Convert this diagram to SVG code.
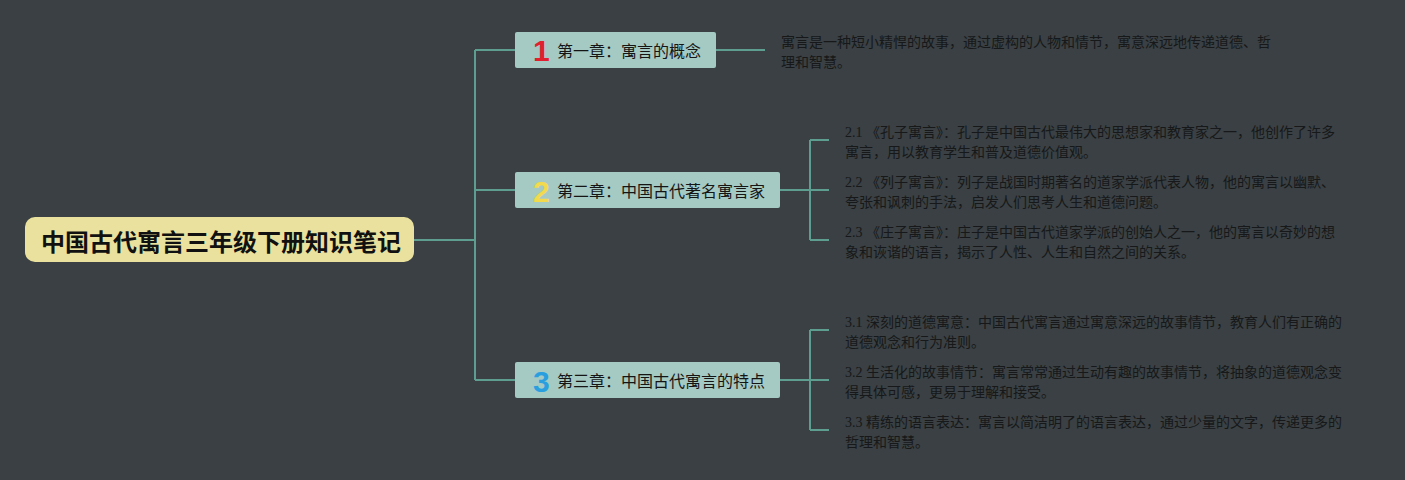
<svg xmlns="http://www.w3.org/2000/svg" width="1405" height="480" viewBox="0 0 1405 480">
<style>
.bg{fill:#3a4043}
.conn{fill:none;stroke:#5e9e90;stroke-width:2}
.root{fill:#e9e19d}
.roott{font-family:"Noto Sans CJK SC",sans-serif;font-weight:bold;font-size:24px;fill:#111;text-anchor:middle}
.box{fill:#a5c9c3}
.boxt{font-family:"Noto Sans CJK SC",sans-serif;font-size:16px;fill:#151515}
.num{font-family:"Liberation Sans","Noto Sans",sans-serif;font-weight:bold;font-size:30px}
.leaf{font-family:"Liberation Serif","Noto Sans CJK SC",serif;font-size:14px;fill:#161819}
.leaf1{font-family:"Noto Sans CJK SC",sans-serif;font-size:14px;fill:#161819}
</style>
<rect class="bg" x="0" y="0" width="1405" height="480"/>
<g id="connectors">
<path class="conn" d="M414 240H475M475 50V380M475 50H515M475 190H515M475 380H515"/>
<path class="conn" d="M716 50H765"/>
<path class="conn" d="M780 190H810M810 140V240M810 140H829M810 190H829M810 240H829"/>
<path class="conn" d="M780 380H810M810 330V430M810 330H829M810 380H829M810 430H829"/>
</g>
<g id="root">
<rect class="root" x="25" y="217" width="389" height="45" rx="10"/>
<text class="roott" x="221" y="251">中国古代寓言三年级下册知识笔记</text>
</g>
<g id="ch1">
<rect class="box" x="515" y="32" width="201" height="36" rx="2"/>
<text class="num" x="533" y="61" fill="#e0202f">1</text>
<text class="boxt" x="557" y="57">第一章：寓言的概念</text>
</g>
<g id="ch2">
<rect class="box" x="515" y="172" width="265" height="36" rx="2"/>
<text class="num" x="533" y="202" fill="#f2da4c">2</text>
<text class="boxt" x="557" y="197">第二章：中国古代著名寓言家</text>
</g>
<g id="ch3">
<rect class="box" x="515" y="362" width="265" height="36" rx="2"/>
<text class="num" x="533" y="392" fill="#2a9fe0">3</text>
<text class="boxt" x="557" y="387">第三章：中国古代寓言的特点</text>
</g>
<g id="leaf1">
<text class="leaf1" x="781" y="47">寓言是一种短小精悍的故事，通过虚构的人物和情节，寓意深远地传递道德、哲</text>
<text class="leaf1" x="781" y="67">理和智慧。</text>
</g>
<g id="leaf21">
<text class="leaf" x="845" y="137">2.1 《孔子寓言》：孔子是中国古代最伟大的思想家和教育家之一，他创作了许多</text>
<text class="leaf" x="845" y="157">寓言，用以教育学生和普及道德价值观。</text>
</g>
<g id="leaf22">
<text class="leaf" x="845" y="187">2.2 《列子寓言》：列子是战国时期著名的道家学派代表人物，他的寓言以幽默、</text>
<text class="leaf" x="845" y="207">夸张和讽刺的手法，启发人们思考人生和道德问题。</text>
</g>
<g id="leaf23">
<text class="leaf" x="845" y="237">2.3 《庄子寓言》：庄子是中国古代道家学派的创始人之一，他的寓言以奇妙的想</text>
<text class="leaf" x="845" y="257">象和诙谐的语言，揭示了人性、人生和自然之间的关系。</text>
</g>
<g id="leaf31">
<text class="leaf" x="845" y="327">3.1 深刻的道德寓意：中国古代寓言通过寓意深远的故事情节，教育人们有正确的</text>
<text class="leaf" x="845" y="347">道德观念和行为准则。</text>
</g>
<g id="leaf32">
<text class="leaf" x="845" y="377">3.2 生活化的故事情节：寓言常常通过生动有趣的故事情节，将抽象的道德观念变</text>
<text class="leaf" x="845" y="397">得具体可感，更易于理解和接受。</text>
</g>
<g id="leaf33">
<text class="leaf" x="845" y="427">3.3 精练的语言表达：寓言以简洁明了的语言表达，通过少量的文字，传递更多的</text>
<text class="leaf" x="845" y="447">哲理和智慧。</text>
</g>
</svg>
